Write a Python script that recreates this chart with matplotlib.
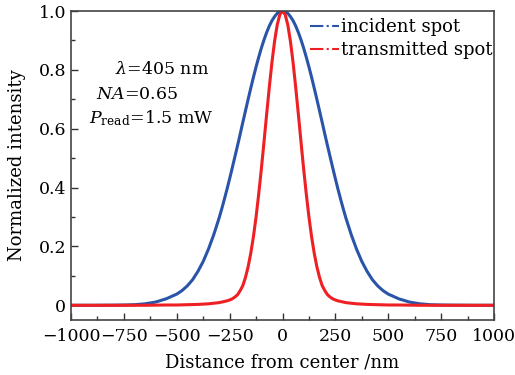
import matplotlib
matplotlib.use("Agg")
import matplotlib.pyplot as plt
from matplotlib.ticker import MultipleLocator, FuncFormatter

# Distance from center (nm) and normalized intensity
distance = [-1000, -900, -800, -750, -700, -650, -600, -550, -500, -475, -450, -425,
            -400, -375, -350, -325, -300, -287.5, -275, -262.5, -250, -237.5, -225, -212.5,
            -200, -187.5, -175, -162.5, -150, -137.5, -125, -112.5, -100, -87.5, -75, -62.5,
            -50, -37.5, -25, -12.5, 0, 12.5, 25, 37.5, 50, 62.5, 75, 87.5, 100, 112.5, 125,
            137.5, 150, 162.5, 175, 187.5, 200, 212.5, 225, 237.5, 250, 262.5, 275, 287.5,
            300, 325, 350, 375, 400, 425, 450, 475, 500, 550, 600, 650, 700, 750, 800, 900, 1000]

incident = [0, 0, 0.0005, 0.001, 0.002, 0.005, 0.011, 0.022, 0.038, 0.050, 0.066, 0.087,
            0.115, 0.149, 0.191, 0.240, 0.296, 0.327, 0.360, 0.394, 0.430, 0.467, 0.505, 0.543,
            0.582, 0.622, 0.661, 0.700, 0.738, 0.775, 0.810, 0.843, 0.874, 0.902, 0.927, 0.949,
            0.967, 0.981, 0.992, 0.998, 1.0, 0.998, 0.992, 0.981, 0.967, 0.949, 0.927, 0.902,
            0.874, 0.843, 0.810, 0.775, 0.738, 0.700, 0.661, 0.622, 0.582, 0.543, 0.505, 0.467,
            0.430, 0.394, 0.360, 0.327, 0.296, 0.240, 0.191, 0.149, 0.115, 0.087, 0.066, 0.050,
            0.038, 0.022, 0.011, 0.005, 0.002, 0.001, 0.0005, 0, 0]

transmitted = [0, 0, 0, 0, 0, 0, 0.0005, 0.001, 0.001, 0.0015, 0.002, 0.0025,
               0.003, 0.004, 0.005, 0.007, 0.009, 0.011, 0.013, 0.015, 0.018, 0.022, 0.028, 0.036,
               0.050, 0.067, 0.095, 0.131, 0.177, 0.233, 0.300, 0.378, 0.463, 0.555, 0.649, 0.740,
               0.825, 0.897, 0.953, 0.988, 1.0, 0.988, 0.953, 0.897, 0.825, 0.740, 0.649, 0.555,
               0.463, 0.378, 0.300, 0.233, 0.177, 0.131, 0.095, 0.067, 0.050, 0.036, 0.028, 0.022,
               0.018, 0.015, 0.013, 0.011, 0.009, 0.007, 0.005, 0.004, 0.003, 0.0025, 0.002, 0.0015,
               0.001, 0.001, 0.0005, 0, 0, 0, 0, 0, 0]

blue = "#2a54a8"
red = "#ee2024"

plt.rcParams["font.family"] = "DejaVu Serif"
plt.rcParams["mathtext.fontset"] = "dejavuserif"
plt.rcParams["font.size"] = 13

fig = plt.figure(figsize=(5.15, 3.75), dpi=100)
ax = fig.add_axes([71/515, 1-320/375, 423/515, 309/375])

ax.plot(distance, incident, color=blue, lw=2.2)
ax.plot(distance, transmitted, color=red, lw=2.2)

ax.set_xlim(-1000, 1000)
ax.set_ylim(-0.05, 1.0)
ax.xaxis.set_major_locator(MultipleLocator(250))
ax.xaxis.set_minor_locator(MultipleLocator(125))
ax.yaxis.set_major_locator(MultipleLocator(0.2))
ax.yaxis.set_minor_locator(MultipleLocator(0.1))
ax.yaxis.set_major_formatter(FuncFormatter(lambda v, p: "0" if abs(v) < 1e-9 else "%.1f" % v))
ax.tick_params(which="both", direction="in", top=False, right=False, colors="#333333",
               labelcolor="black", labelsize=12.5)
ax.tick_params(which="major", length=5, width=1)
ax.tick_params(which="minor", length=3, width=1)
ax.tick_params(axis="x", pad=6)
for s in ax.spines.values():
    s.set_color("#444444")
    s.set_linewidth(1.2)

ax.set_xlabel("Distance from center /nm", labelpad=6)
ax.set_ylabel("Normalized intensity", labelpad=9)

# legend with dash-dot handles
h1, = ax.plot([], [], color=blue, lw=1.5, ls="-.")
h2, = ax.plot([], [], color=red, lw=1.5, ls="-.")
ax.legend([h1, h2], ["incident spot", "transmitted spot"], frameon=False,
          loc="upper left", bbox_to_anchor=(310/515, 1-18/375), bbox_transform=fig.transFigure,
          handlelength=1.6, handletextpad=0.1, labelspacing=0.3, borderaxespad=0, borderpad=0)

fig.text(115/515, 1-74/375, r"$\lambda$=405 nm", fontsize=12.5)
fig.text(96/515, 1-99/375, r"$NA$=0.65", fontsize=12.5)
fig.text(89/515, 1-123/375, r"$P_{\rm read}$=1.5 mW", fontsize=12.5)

plt.savefig("out.png", dpi=100)
